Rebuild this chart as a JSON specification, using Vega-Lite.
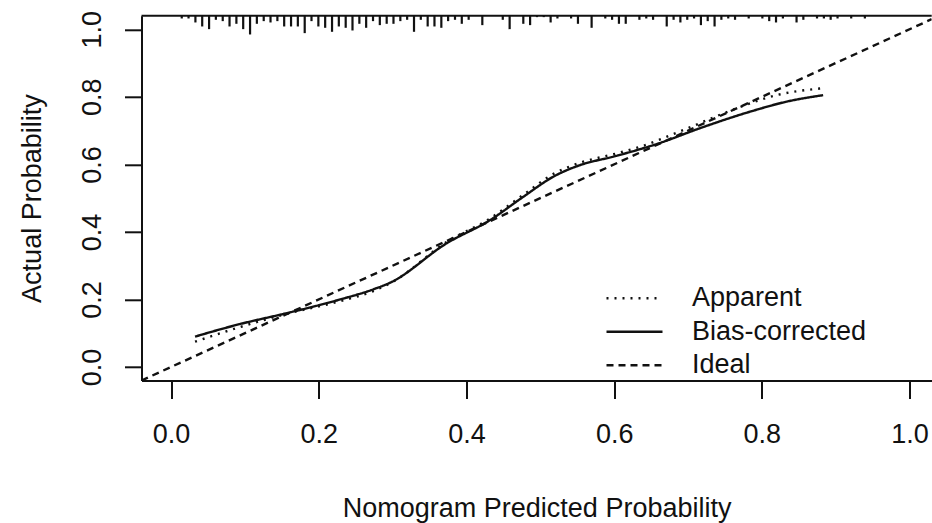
{
  "$schema": "https://vega.github.io/schema/vega-lite/v6.json",
  "width": 790.2,
  "height": 364.7,
  "autosize": "none",
  "padding": {"left": 141.5, "top": 15.8, "right": 0.3, "bottom": 142.5},
  "background": "white",
  "config": {
    "view": {"stroke": null},
    "font": "Liberation Sans",
    "axis": {"grid": false, "domain": true, "labelFlush": false, "labelOverlap": false, "domainColor": "#111", "domainWidth": 2, "tickColor": "#111", "tickWidth": 2, "labelColor": "#111", "titleColor": "#111", "labelFont": "Liberation Sans", "titleFont": "Liberation Sans", "labelFontSize": 27, "titleFontSize": 27, "titleFontWeight": "normal"},
    "legend": {"labelFont": "Liberation Sans"}
  },
  "datasets": {
    "curves": [
      {"series": "Apparent", "x": 0.0325, "y": 0.075},
      {"series": "Apparent", "x": 0.093, "y": 0.118},
      {"series": "Apparent", "x": 0.152, "y": 0.155},
      {"series": "Apparent", "x": 0.229, "y": 0.195},
      {"series": "Apparent", "x": 0.274, "y": 0.225},
      {"series": "Apparent", "x": 0.300, "y": 0.252},
      {"series": "Apparent", "x": 0.373, "y": 0.370},
      {"series": "Apparent", "x": 0.432, "y": 0.440},
      {"series": "Apparent", "x": 0.477, "y": 0.510},
      {"series": "Apparent", "x": 0.518, "y": 0.572},
      {"series": "Apparent", "x": 0.554, "y": 0.605},
      {"series": "Apparent", "x": 0.599, "y": 0.630},
      {"series": "Apparent", "x": 0.635, "y": 0.652},
      {"series": "Apparent", "x": 0.694, "y": 0.702},
      {"series": "Apparent", "x": 0.761, "y": 0.762},
      {"series": "Apparent", "x": 0.820, "y": 0.805},
      {"series": "Apparent", "x": 0.880, "y": 0.825},
      {"series": "Bias-corrected", "x": 0.0325, "y": 0.090},
      {"series": "Bias-corrected", "x": 0.093, "y": 0.127},
      {"series": "Bias-corrected", "x": 0.152, "y": 0.157},
      {"series": "Bias-corrected", "x": 0.229, "y": 0.200},
      {"series": "Bias-corrected", "x": 0.274, "y": 0.230},
      {"series": "Bias-corrected", "x": 0.297, "y": 0.250},
      {"series": "Bias-corrected", "x": 0.373, "y": 0.366},
      {"series": "Bias-corrected", "x": 0.432, "y": 0.435},
      {"series": "Bias-corrected", "x": 0.477, "y": 0.504},
      {"series": "Bias-corrected", "x": 0.518, "y": 0.564},
      {"series": "Bias-corrected", "x": 0.554, "y": 0.598},
      {"series": "Bias-corrected", "x": 0.599, "y": 0.623},
      {"series": "Bias-corrected", "x": 0.635, "y": 0.645},
      {"series": "Bias-corrected", "x": 0.660, "y": 0.662},
      {"series": "Bias-corrected", "x": 0.716, "y": 0.707},
      {"series": "Bias-corrected", "x": 0.784, "y": 0.756},
      {"series": "Bias-corrected", "x": 0.834, "y": 0.786},
      {"series": "Bias-corrected", "x": 0.883, "y": 0.805},
      {"series": "Ideal", "x": -0.04, "y": -0.04},
      {"series": "Ideal", "x": 1.03, "y": 1.03}
    ],
    "rug": [
      {"x": 0.0145, "freq": 2}, {"x": 0.0237, "freq": 2}, {"x": 0.0330, "freq": 5}, {"x": 0.0422, "freq": 8},
      {"x": 0.0515, "freq": 10}, {"x": 0.0607, "freq": 3}, {"x": 0.0700, "freq": 4}, {"x": 0.0792, "freq": 8},
      {"x": 0.0885, "freq": 6}, {"x": 0.0977, "freq": 10}, {"x": 0.1070, "freq": 14}, {"x": 0.1162, "freq": 6},
      {"x": 0.1255, "freq": 4}, {"x": 0.1347, "freq": 5}, {"x": 0.1440, "freq": 4}, {"x": 0.1532, "freq": 8},
      {"x": 0.1625, "freq": 8}, {"x": 0.1717, "freq": 8}, {"x": 0.1810, "freq": 13}, {"x": 0.1902, "freq": 4},
      {"x": 0.1995, "freq": 8}, {"x": 0.2087, "freq": 9}, {"x": 0.2180, "freq": 12}, {"x": 0.2272, "freq": 8},
      {"x": 0.2365, "freq": 9}, {"x": 0.2457, "freq": 11}, {"x": 0.2550, "freq": 6}, {"x": 0.2642, "freq": 9},
      {"x": 0.2735, "freq": 4}, {"x": 0.2827, "freq": 7}, {"x": 0.2920, "freq": 6}, {"x": 0.3012, "freq": 6},
      {"x": 0.3105, "freq": 4}, {"x": 0.3197, "freq": 3}, {"x": 0.3290, "freq": 12}, {"x": 0.3382, "freq": 3},
      {"x": 0.3475, "freq": 8}, {"x": 0.3567, "freq": 8}, {"x": 0.3660, "freq": 9}, {"x": 0.3752, "freq": 4},
      {"x": 0.3845, "freq": 3}, {"x": 0.3937, "freq": 6}, {"x": 0.4030, "freq": 3}, {"x": 0.4215, "freq": 7},
      {"x": 0.4492, "freq": 3}, {"x": 0.4585, "freq": 10}, {"x": 0.4770, "freq": 6}, {"x": 0.4862, "freq": 7},
      {"x": 0.4955, "freq": 1}, {"x": 0.5047, "freq": 1}, {"x": 0.5140, "freq": 5}, {"x": 0.5232, "freq": 2},
      {"x": 0.5417, "freq": 2}, {"x": 0.5510, "freq": 6}, {"x": 0.5695, "freq": 9}, {"x": 0.5880, "freq": 2},
      {"x": 0.5972, "freq": 3}, {"x": 0.6065, "freq": 6}, {"x": 0.6157, "freq": 6}, {"x": 0.6342, "freq": 3},
      {"x": 0.6435, "freq": 2}, {"x": 0.6527, "freq": 3}, {"x": 0.6712, "freq": 8}, {"x": 0.6805, "freq": 3},
      {"x": 0.6897, "freq": 5}, {"x": 0.6990, "freq": 3}, {"x": 0.7082, "freq": 2}, {"x": 0.7175, "freq": 7},
      {"x": 0.7267, "freq": 4}, {"x": 0.7360, "freq": 8}, {"x": 0.7452, "freq": 3}, {"x": 0.7545, "freq": 2},
      {"x": 0.7637, "freq": 3}, {"x": 0.7822, "freq": 2}, {"x": 0.8007, "freq": 2}, {"x": 0.8100, "freq": 4},
      {"x": 0.8192, "freq": 5}, {"x": 0.8285, "freq": 2}, {"x": 0.8470, "freq": 5}, {"x": 0.8562, "freq": 3},
      {"x": 0.8747, "freq": 2}, {"x": 0.8840, "freq": 2}, {"x": 0.8932, "freq": 3}, {"x": 0.9025, "freq": 2},
      {"x": 0.9210, "freq": 2}, {"x": 0.9395, "freq": 2}
    ],
    "frame": [{"edge": "top"}]
  },
  "layer": [
    {
      "layer": [
        {
          "data": {"name": "curves"},
          "mark": {"type": "line", "strokeWidth": 2.4, "color": "#111", "clip": true, "interpolate": "monotone"},
          "encoding": {
            "x": {"field": "x", "type": "quantitative", "scale": {"domain": [-0.04, 1.03], "nice": false, "zero": false},
              "axis": {"domain": true, "values": [0, 0.2, 0.4, 0.6, 0.8, 1.0], "format": ".1f", "tickSize": 18, "labelPadding": 23,
                "title": "Nomogram Predicted Probability", "titleBaseline": "alphabetic", "titleY": 136}},
            "y": {"field": "y", "type": "quantitative", "scale": {"domain": [-0.04, 1.04], "nice": false, "zero": false},
              "axis": {"domain": true, "values": [0, 0.2, 0.4, 0.6, 0.8, 1.0], "format": ".1f", "tickSize": 17, "labelPadding": 24,
                "labelAngle": 270, "labelAlign": "center", "labelBaseline": "alphabetic",
                "title": "Actual Probability", "titleAngle": 270, "titleAlign": "center", "titleBaseline": "alphabetic", "titleX": -101.5, "titleY": 182.3}},
            "strokeDash": {"field": "series", "type": "nominal",
              "scale": {"domain": ["Apparent", "Bias-corrected", "Ideal"], "range": [[2, 6], [1, 0], [7, 5]]},
              "legend": {"title": null, "orient": "none", "legendX": 477.5, "legendY": 267, "padding": 0,
                "symbolType": "M-2,0H2", "symbolSize": 784, "symbolStrokeWidth": 2.4, "symbolStrokeColor": "#111",
                "labelFontSize": 27, "labelColor": "#111", "labelOffset": 42, "rowPadding": 4.5, "labelLimit": 400}}
          }
        },
        {
          "data": {"name": "frame"},
          "mark": {"type": "rule", "color": "#111", "strokeWidth": 2},
          "encoding": {"y": {"datum": 1.04}}
        }
      ]
    },
    {
      "data": {"name": "rug"},
      "mark": {"type": "rule", "color": "#111", "strokeWidth": 2.2},
      "encoding": {
        "x": {"field": "x", "type": "quantitative", "scale": {"domain": [-0.04, 1.03], "nice": false, "zero": false}},
        "y": {"field": "freq", "type": "quantitative", "scale": {"domain": [0, 273.5], "reverse": true, "nice": false}, "axis": null},
        "y2": {"datum": 0}
      }
    }
  ],
  "resolve": {"scale": {"y": "independent"}}
}
